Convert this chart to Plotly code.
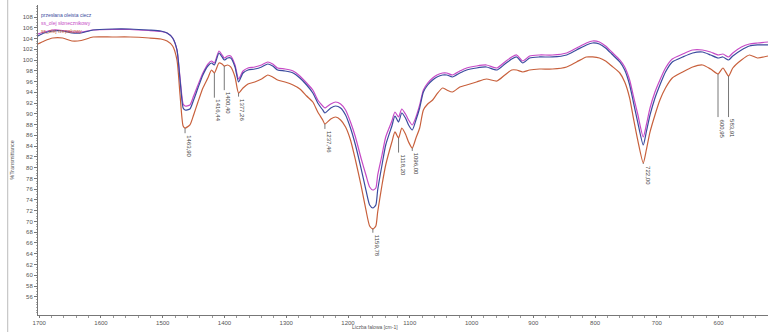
import plotly.graph_objects as go

# Wavenumber axis [cm-1]
wavenumber = [
    1702, 1692, 1678, 1662, 1647, 1632, 1613, 1582, 1553, 1522, 1503, 1493, 1484, 1477,
    1472, 1467, 1463.9, 1456, 1450, 1443, 1435, 1427, 1421, 1416.44, 1409, 1404, 1400.4,
    1395, 1390, 1383, 1377.26, 1370, 1362, 1351, 1340, 1330, 1322, 1314, 1302, 1289, 1278,
    1267, 1257, 1249, 1241, 1237.46, 1228, 1220, 1212, 1204, 1196, 1188, 1179, 1171, 1165,
    1159.78, 1155, 1152, 1145, 1139, 1129, 1124, 1118.2, 1113, 1107, 1102, 1096, 1090, 1084,
    1078, 1071, 1063, 1056, 1047, 1040, 1031, 1019, 1008, 992, 976, 959, 946, 935, 927, 917,
    906, 890, 869, 846, 830, 814, 804, 793, 783, 773, 760, 752, 744, 738, 731, 722, 717, 711,
    703, 695, 686, 675, 658, 642, 626, 613, 600.95, 593, 583.91, 577, 563, 550, 537, 520,
]

# %Transmittance of each sample
przesiana = [
    104.47, 105.03, 105.40, 105.40, 105.03, 105.03, 105.58, 105.77, 105.77, 105.58, 105.40, 105.03, 104.10, 101.87,
    96.29, 91.09, 90.72, 90.90, 92.57, 94.80, 97.22, 98.89, 99.45, 99.08, 101.31, 100.57, 100.01,
    100.38, 100.38, 98.71, 95.92, 97.59, 98.15, 98.33, 98.71, 99.26, 98.89, 98.15, 97.96, 97.59, 96.66,
    95.36, 93.87, 92.02, 90.72, 90.16, 91.09, 91.46, 91.09, 89.79, 87.37, 84.21, 79.93, 75.84, 73.05,
    72.50, 73.05, 75.84, 80.49, 84.21, 87.74, 89.60, 88.48, 90.16, 89.23, 87.93, 87.00, 88.86, 91.09,
    94.06, 95.36, 96.29, 96.85, 97.22, 97.22, 96.85, 97.59, 98.15, 98.52, 98.71, 98.15, 99.26, 100.19, 100.57, 99.45,
    100.38, 100.57, 100.57, 100.94, 101.87, 102.80, 103.17, 102.98, 102.24, 101.12, 99.64, 98.15, 95.36, 92.20, 88.48, 84.21, 86.63, 89.79,
    92.94, 95.36, 97.78, 99.64, 100.57, 101.31, 101.49, 100.94, 100.38, 100.57, 100.01, 100.75, 101.87, 102.61, 102.80, 102.80,
]

slonecznikowy = [
    104.84, 105.21, 105.58, 105.49, 105.21, 105.21, 105.58, 105.68, 105.68, 105.49, 105.31, 105.03, 104.10, 101.87,
    96.66, 91.83, 91.46, 91.64, 93.32, 95.36, 97.59, 99.26, 99.82, 99.45, 101.68, 100.94, 100.38,
    100.75, 100.75, 99.08, 96.48, 97.96, 98.52, 98.71, 99.08, 99.64, 99.26, 98.52, 98.33, 97.96, 97.03,
    95.73, 94.43, 92.57, 91.46, 91.09, 91.83, 92.20, 91.83, 90.72, 88.48, 85.70, 81.79, 78.63, 76.40,
    75.84, 76.22, 78.63, 82.35, 85.70, 88.67, 90.34, 89.41, 90.90, 89.97, 88.86, 87.93, 89.41, 91.64,
    94.43, 95.73, 96.66, 97.22, 97.59, 97.59, 97.22, 97.96, 98.52, 98.89, 99.08, 98.52, 99.64, 100.57, 100.94, 99.82,
    100.75, 100.94, 100.94, 101.31, 102.24, 103.17, 103.54, 103.35, 102.61, 101.49, 100.01, 98.71, 96.29, 93.32, 89.97, 85.70, 87.93, 91.09,
    94.06, 96.29, 98.52, 100.19, 101.12, 101.87, 101.87, 101.49, 100.94, 101.12, 100.57, 101.31, 102.42, 102.98, 103.17, 103.35,
]

rzepakowy = [
    102.98, 103.54, 104.10, 104.10, 103.54, 103.63, 104.28, 104.28, 104.28, 104.10, 103.91, 103.54, 102.61, 100.01,
    93.50, 87.74, 87.37, 87.93, 89.79, 92.20, 94.80, 96.66, 98.15, 97.59, 99.45, 99.26, 98.89,
    99.08, 98.71, 96.85, 93.87, 94.80, 95.55, 95.92, 96.48, 97.22, 96.85, 96.29, 95.92, 95.36, 94.62,
    93.32, 92.20, 90.34, 88.86, 88.11, 89.04, 89.41, 88.86, 87.55, 85.14, 81.42, 76.77, 72.13, 69.15,
    68.60, 69.15, 71.76, 76.77, 80.49, 84.77, 86.63, 85.51, 87.37, 86.25, 84.77, 83.65, 85.51, 87.37,
    90.72, 91.83, 92.57, 93.69, 94.80, 94.43, 94.06, 94.99, 95.36, 95.92, 96.48, 96.10, 97.22, 98.15, 98.15, 97.78,
    98.15, 98.33, 98.33, 98.71, 99.64, 100.57, 100.57, 100.38, 99.82, 98.89, 97.59, 95.92, 92.94, 89.23, 85.14, 80.86, 83.28, 86.63,
    89.79, 92.57, 94.80, 96.66, 97.78, 98.71, 99.08, 98.33, 97.41, 98.52, 97.03, 98.52, 100.01, 100.94, 100.38, 100.75,
]

series_names = ["przesłana oleista ciecz", "ss_olej słonecznikowy", "ss_olej rzepakowy"]
series_colors = ["#3b4b9e", "#c64ac6", "#c8603c"]

# Marked peaks: wavenumber, label text, transmittance where the leader starts, where the text starts
peak_wn = [1463.90, 1416.44, 1400.40, 1377.26, 1237.46, 1159.78, 1118.20, 1096.00, 722.00, 600.95, 583.91]
peak_text = ["1463,90", "1416,44", "1400,40", "1377,26", "1237,46", "1159,78", "1118,20", "1096,00", "722,00", "600,95", "583,91"]
peak_line_top = [87.37, 97.59, 98.89, 93.87, 88.11, 68.60, 85.51, 83.65, 80.86, 97.41, 97.03]
peak_text_top = [86.4, 93.0, 94.4, 93.2, 87.2, 67.9, 82.8, 83.1, 80.7, 89.4, 89.4]

y_ticks = list(range(56, 109, 2))
x_ticks = [1700, 1600, 1500, 1400, 1300, 1200, 1100, 1000, 900, 800, 700, 600]

FONT = "Liberation Sans, Arial"

fig = go.Figure()

for name, vals, col in reversed(list(zip(series_names, [przesiana, slonecznikowy, rzepakowy], series_colors))):
    fig.add_trace(go.Scatter(
        x=wavenumber, y=vals, mode="lines", name=name,
        line=dict(color=col, width=1.2, shape="spline", smoothing=0.6),
        showlegend=False,
    ))

shapes = []
annotations = []
for wn, txt, ytop, ttop in zip(peak_wn, peak_text, peak_line_top, peak_text_top):
    shapes.append(dict(type="line", xref="x", yref="y", x0=wn, x1=wn, y0=ytop, y1=ttop,
                       line=dict(color="#555555", width=0.8)))
    annotations.append(dict(x=wn, y=ttop, xref="x", yref="y", text=txt, showarrow=False,
                            textangle=90, xanchor="left", yanchor="top", xshift=-1,
                            font=dict(size=6, color="#444444", family=FONT)))

# legend entries drawn as coloured text
for i, (name, col) in enumerate(zip(series_names, series_colors)):
    annotations.append(dict(x=0.002, y=0.985 - i * 0.026, xref="paper", yref="paper", text=name,
                            showarrow=False, xanchor="left", yanchor="top",
                            font=dict(size=5, color=col, family=FONT)))

annotations.append(dict(x=-0.036, y=0.5, xref="paper", yref="paper", text="%Transmittance",
                        showarrow=False, textangle=-90, xanchor="center", yanchor="middle",
                        font=dict(size=5.5, color="#555555", family=FONT)))
annotations.append(dict(x=0.462, y=-0.0548, xref="paper", yref="paper", text="Liczba falowa [cm-1]",
                        showarrow=False, xanchor="center", yanchor="bottom",
                        font=dict(size=5, color="#555555", family=FONT)))

# thin frame line at the far left
shapes.append(dict(type="line", xref="paper", yref="paper", x0=-0.0415, x1=-0.0415, y0=-0.06, y1=1.02,
                   line=dict(color="#bbbbbb", width=1)))

fig.update_layout(
    width=768, height=332, autosize=False,
    margin=dict(l=38, r=0, t=5, b=17),
    paper_bgcolor="white", plot_bgcolor="white",
    shapes=shapes, annotations=annotations,
    font=dict(family=FONT, size=6, color="#555555"),
    xaxis=dict(
        range=[1702, 520], tickvals=x_ticks, ticktext=[str(v) for v in x_ticks],
        showgrid=False, zeroline=False, showline=True, linecolor="#777777", linewidth=1,
        ticks="outside", ticklen=2, tickcolor="#777777", tickfont=dict(size=6, color="#555555"),
        minor=dict(ticks="outside", ticklen=1.5, dtick=20, tickcolor="#999999"),
    ),
    yaxis=dict(
        range=[52.61, 110.23], tickvals=y_ticks, ticktext=[str(v) for v in y_ticks],
        showgrid=False, zeroline=False, showline=True, linecolor="#777777", linewidth=1,
        ticks="outside", ticklen=3, tickcolor="#777777", tickfont=dict(size=6, color="#555555"),
        minor=dict(ticks="outside", ticklen=1.5, dtick=0.5, tickcolor="#aaaaaa"),
    ),
)

fig.write_html("out.html")
